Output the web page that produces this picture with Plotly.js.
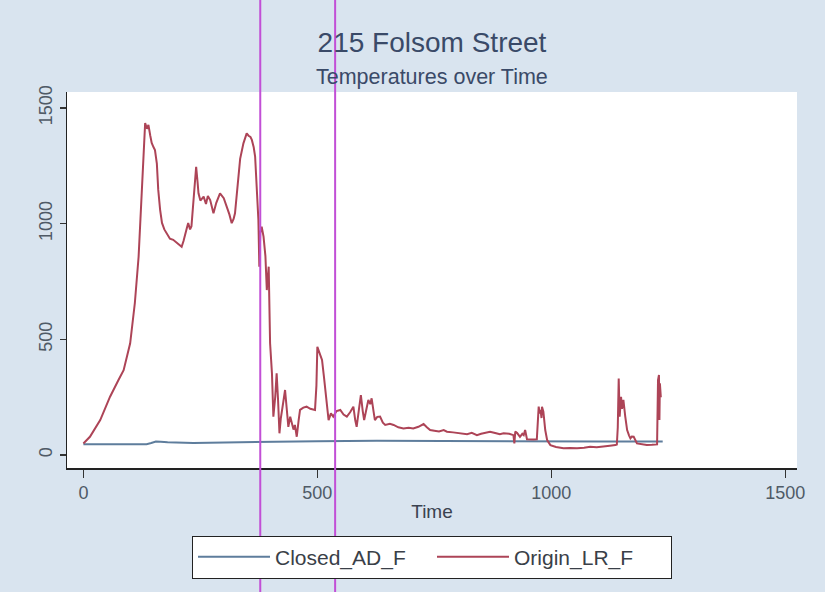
<!DOCTYPE html>
<html>
<head>
<meta charset="utf-8">
<script src="https://cdn.plot.ly/plotly-3.0.1.min.js"></script>
<style>html,body{margin:0;padding:0;background:#d9e4ef;}#chart{width:825px;height:592px;}</style>
</head>
<body>
<div id="chart"></div>
<script>
// Closed_AD_F series
var closedTime = [0,50,100,135,145,155,165,180,235,300,349,400,449,500,627,700,800,900,1000,1100,1200,1238];
var closedTemp = [47,47,47,47,52,58,57,55,52,54,56,58,60,60,62,61,60,59,58,58,58,58];

// Origin_LR_F series
var originTime = [0,14,36,57,75,86,100,110,118,125,130,132,136,139,143,146,150,153,157,160,164,168,173,178,185,192,200,210,214,217,221,224,228,231,235,238,241,244,246,250,257,262,266,271,275,278,284,292,300,307,312,317,321,324,328,331,335,342,346,349,353,357,360,364,367,371,374,376,378,381,385,389,392,396,399,403,406,410,413,416,419,422,424,428,431,435,438,442,445,449,452,456,460,463,470,477,485,495,498,500,503,507,510,514,517,521,524,529,534,541,549,556,563,570,577,581,584,589,593,597,600,605,609,613,616,620,623,628,634,640,645,655,663,673,684,695,705,716,727,734,741,750,760,770,777,790,800,812,820,830,841,850,860,869,880,890,898,910,919,921,923,927,933,938,941,944,948,955,962,969,971,973,975,977,979,980,983,985,987,991,998,1010,1026,1040,1055,1070,1083,1097,1112,1125,1137,1140,1142,1144,1146,1149,1151,1154,1158,1162,1166,1169,1172,1176,1183,1195,1204,1215,1226,1228,1230,1231,1232,1234];
var originTemp = [50,79,151,252,324,367,483,657,857,1146,1350,1435,1410,1427,1380,1349,1330,1318,1260,1146,1060,1003,975,960,935,930,915,900,925,944,980,1003,975,989,1102,1180,1246,1180,1131,1100,1117,1085,1120,1102,1070,1045,1090,1131,1110,1073,1040,1002,1020,1045,1120,1203,1280,1347,1375,1390,1380,1375,1362,1330,1290,1146,1016,814,960,987,944,860,713,814,483,353,166,252,353,240,94,160,195,240,281,200,122,166,140,110,130,79,150,195,205,209,200,195,300,468,450,430,411,340,281,200,151,180,166,190,195,175,166,185,209,150,122,200,259,190,151,200,238,220,245,190,151,165,166,140,130,135,130,120,115,118,115,122,134,120,108,105,102,108,101,98,95,94,90,96,86,92,98,101,95,90,94,92,86,50,101,95,79,92,86,108,68,66,67,68,150,209,180,195,160,209,187,150,108,65,43,35,29,30,29,32,36,34,36,40,43,45,120,331,166,252,200,238,166,108,85,72,80,79,50,45,43,44,46,324,346,151,310,250];

var seriesNames = ['Closed_AD_F', 'Origin_LR_F'];
var xTicks = [0, 500, 1000, 1500];
var yTicks = [0, 500, 1000, 1500];
var chartTitle = '215 Folsom Street';
var chartSubtitle = 'Temperatures over Time';
// vertical marker lines drawn over the scanned figure (in Time units)
var markerTimes = [378, 538];

var FONT = 'Liberation Sans, Arial, sans-serif';

var traces = [
  {x: closedTime, y: closedTemp, name: seriesNames[0], type: 'scatter', mode: 'lines',
   line: {color: '#5e7d9c', width: 2}},
  {x: originTime, y: originTemp, name: seriesNames[1], type: 'scatter', mode: 'lines',
   line: {color: '#ad4457', width: 2}}
];

var shapes = markerTimes.map(function(t){
  return {type: 'line', xref: 'x', yref: 'paper', x0: t, x1: t, y0: -0.4, y1: 1.3,
          line: {color: '#c24fd6', width: 2}, layer: 'above'};
});

var tickFont = {family: FONT, size: 18, color: '#4f5a66'};

var layout = {
  width: 825, height: 592,
  paper_bgcolor: '#d9e4ef',
  plot_bgcolor: '#ffffff',
  margin: {l: 67, r: 28, t: 92, b: 124},
  title: {
    text: chartTitle,
    font: {family: FONT, size: 28, color: '#3a4a68'},
    x: 0.5, xref: 'paper', xanchor: 'center',
    y: 0.945, yref: 'container', yanchor: 'top'
  },
  annotations: [{
    text: chartSubtitle, showarrow: false,
    xref: 'paper', yref: 'paper', x: 0.5, y: 1.0386, xanchor: 'center', yanchor: 'middle',
    font: {family: FONT, size: 21.5, color: '#3a4a68'}
  }],
  showlegend: true,
  legend: {
    orientation: 'h', x: 0.5, xanchor: 'center', y: -0.18, yanchor: 'top',
    bgcolor: '#ffffff', bordercolor: '#222222', borderwidth: 1,
    font: {family: FONT, size: 21, color: '#3a3f48'},
    itemwidth: 72, entrywidth: 152, entrywidthmode: 'pixels', traceorder: 'normal'
  },
  xaxis: {
    range: [-35, 1525], tickvals: xTicks, ticktext: xTicks.map(String),
    showgrid: false, zeroline: false, showline: true, linecolor: '#222', linewidth: 1.5,
    ticks: 'outside', ticklen: 8, tickcolor: '#333', tickwidth: 1.5,
    tickfont: tickFont,
    title: {text: 'Time', font: {family: FONT, size: 19, color: '#3a4250'}, standoff: 2}
  },
  yaxis: {
    range: [-56, 1569], tickvals: yTicks, ticktext: yTicks.map(String),
    showgrid: false, zeroline: false, showline: true, linecolor: '#222', linewidth: 1.5,
    ticks: 'outside', ticklen: 6, tickcolor: '#333', tickwidth: 1.5,
    tickangle: -90, tickfont: tickFont
  },
  shapes: shapes
};

Plotly.newPlot('chart', traces, layout, {displayModeBar: false, staticPlot: true});
</script>
</body>
</html>
